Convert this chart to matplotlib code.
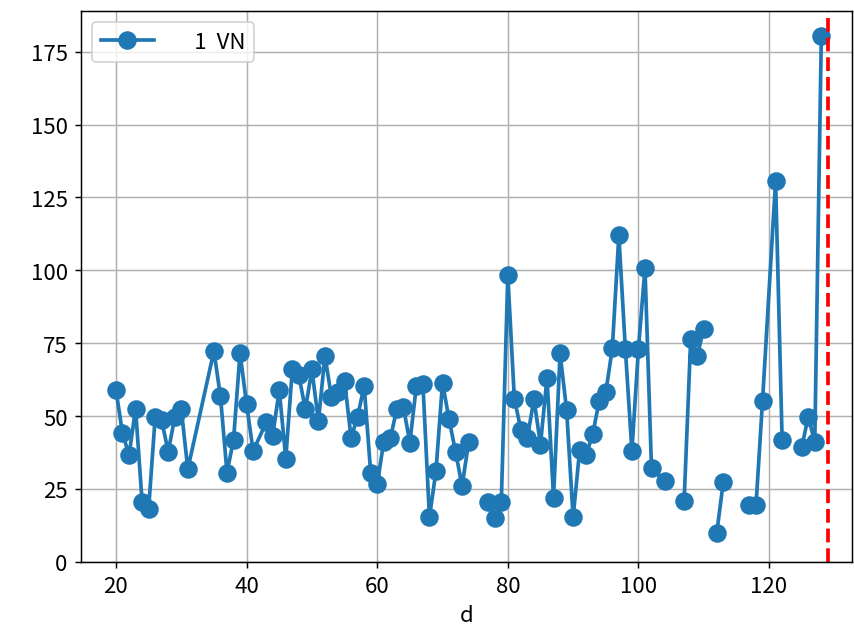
import numpy as np
import matplotlib as mpl
import matplotlib.pyplot as plt

mpl.use("Agg")
plt.rcParams["font.family"] = ["Noto Sans CJK JP", "DejaVu Sans"]
plt.rcParams["font.size"] = 12

# day index; NaN rows break the line where the source had missing values
days = [20, 21, 22, 23, 24, 25, 26, 27, 28, 29, 30, 31,
        35, 36, 37, 38, 39, 40, 41,
        43, 44, 45, 46, 47, 48, 49, 50, 51, 52, 53, 54, 55, 56, 57, 58, 59,
        60, 61, 62, 63, 64, 65, 66, 67, 68, 69, 70, 71, 72, 73, 74,
        75,
        77, 78, 79, 80, 81, 82, 83, 84, 85, 86, 87, 88, 89, 90, 91, 92, 93,
        94, 95, 96, 97, 98, 99, 100, 101, 102, 104,
        105,
        107, 108, 109, 110,
        111,
        112, 113,
        114,
        117, 118, 119, 121, 122,
        123,
        125, 126, 127, 128]

values = [58.9, 44.1, 36.6, 52.4, 20.6, 18.1, 49.5, 48.5, 37.7, 49.6, 52.3, 31.8,
          72.3, 56.7, 30.6, 41.8, 71.6, 54.0, 38.0,
          47.8, 43.3, 58.9, 35.4, 66.0, 64.0, 52.3, 66.0, 48.3, 70.6, 56.5, 58.3, 62.0, 42.6, 49.8, 60.3, 30.6,
          26.6, 41.1, 42.3, 52.3, 53.2, 40.9, 60.4, 60.9, 15.2, 31.2, 61.4, 48.9, 37.7, 26.0, 41.1,
          np.nan,
          20.4, 14.9, 20.4, 98.3, 56.0, 45.3, 42.6, 55.8, 40.2, 63.2, 22.0, 71.5, 52.1, 15.2, 38.4, 36.6, 43.8,
          55.2, 58.1, 73.2, 112.0, 72.9, 38.0, 73.1, 100.8, 32.0, 27.6,
          np.nan,
          21.0, 76.3, 70.6, 80.0,
          np.nan,
          10.0, 27.5,
          np.nan,
          19.3, 19.3, 55.2, 130.6, 41.8,
          np.nan,
          39.2, 49.8, 41.1, 180.3]

cutoff_day = 129
series_label = "\u30001  VN"

fig = plt.figure(figsize=(854 / 133.4, 634 / 133.4), dpi=133.4)
ax = fig.add_axes([80.7 / 854, 71.3 / 634, (852 - 80.7) / 854, (622 - 71.3) / 634])

ax.plot(days, values, marker="o", color="#1f77b4", lw=2, ms=9, label=series_label)
ax.axvline(cutoff_day, color="red", ls="--", lw=2)

ax.set_xlim(14.6, 132.7)
ax.set_ylim(0, 189)
ax.set_xticks([20, 40, 60, 80, 100, 120])
ax.set_yticks([0, 25, 50, 75, 100, 125, 150, 175])
ax.grid(True)
ax.set_xlabel("d")
ax.legend(loc="upper left", handlelength=2.4)

fig.savefig("out.png", dpi=133.4)
